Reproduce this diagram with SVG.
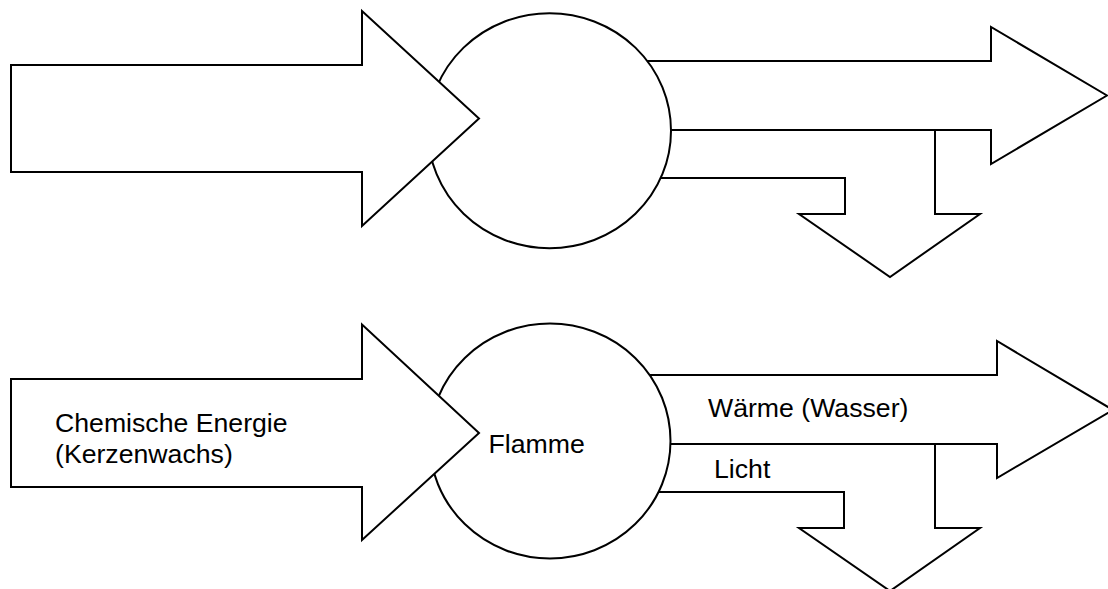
<svg xmlns="http://www.w3.org/2000/svg" width="1108" height="589" viewBox="0 0 1108 589">
<style>
.s{fill:#fff;stroke:#000;stroke-width:2;stroke-linejoin:miter}
.t{font-family:"Liberation Sans",Arial,sans-serif;font-size:26.67px;fill:#000}
</style>
<rect width="1108" height="589" fill="#fff"/>
<g id="connectors">
  <polygon class="s" points="600,130 935,130 935,214 980,214 890,277 799,214 845,214 845,178 600,178"/>
  <polygon class="s" points="600,61 991,61 991,27 1107,95.5 991,164 991,130 600,130"/>
  <polygon class="s" points="600,444 935,444 935,528 980,528 890,591 799,528 844,528 844,492 600,492"/>
  <polygon class="s" points="600,375 997,375 997,341 1113,410 997,478 997,444 600,444"/>
</g>
<g id="flame-top"><ellipse class="s" cx="549.5" cy="130.7" rx="121.5" ry="117.5"/></g>
<g id="flame-bottom"><ellipse class="s" cx="550" cy="441" rx="120.5" ry="117.5"/></g>
<g id="input-top"><polygon class="s" points="11,65 362,65 362,11 479,118.5 362,226 362,172 11,172"/></g>
<g id="input-bottom"><polygon class="s" points="11,379 362,379 362,324.5 479,433 362,540 362,487 11,487"/></g>
<g id="labels">
  <text class="t" x="55" y="432">Chemische Energie</text>
  <text class="t" x="55" y="463">(Kerzenwachs)</text>
  <text class="t" x="488.5" y="453">Flamme</text>
  <text class="t" x="708" y="417">Wärme (Wasser)</text>
  <text class="t" x="714" y="478">Licht</text>
</g>
</svg>
